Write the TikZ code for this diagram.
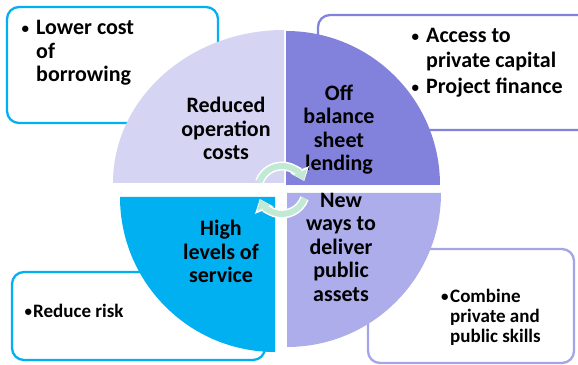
\documentclass[tikz,border=0pt]{standalone}
\usepackage{fontspec}
\setmainfont{Carlito}
\usetikzlibrary{arrows.meta, positioning}

\definecolor{lightlav}{HTML}{D5D5F3}
\definecolor{midpurple}{HTML}{8282DC}
\definecolor{softpurple}{HTML}{ADADEB}
\definecolor{skyblue}{HTML}{00B0F0}
\definecolor{mint}{HTML}{C2E9D4}

\newcommand{\dotmark}[1]{\llap{\raisebox{1pt}{\fontsize{15}{15}\selectfont\textbullet}\hspace{#1}}}

\begin{document}
\begin{tikzpicture}[x=1pt, y=1pt,
  infobox/.style={draw=#1, line width=2.3pt, fill=white, rounded corners=12pt},
  quadtext/.style={align=center, inner sep=0pt, font=\fontsize{22}{23.5}\selectfont\bfseries},
  boxtext/.style={align=left, inner sep=0pt, anchor=west, font=\fontsize{22}{23.5}\selectfont\bfseries},
  smalltext/.style={align=left, inner sep=0pt, anchor=west, font=\fontsize{19}{20}\selectfont\bfseries},
  cyclearrow/.style={line width=#1}]

\useasboundingbox (0,0) rectangle (578,364);

% text boxes behind the quadrants
\draw[infobox=skyblue] (7,241) rectangle (218,357);
\draw[infobox=midpurple] (318,234) rectangle (600,349);
\draw[infobox=skyblue] (12,4) rectangle (265,92);
\draw[infobox=softpurple!80!midpurple] (368,1) rectangle (574,115);

\node[boxtext] (borrow) at (36,311) {\dotmark{7pt}Lower cost\\of\\borrowing};
\node[boxtext, font=\fontsize{22}{24.5}\selectfont\bfseries] (capital) at (426,301) {\dotmark{7pt}Access to\\private capital\\[2pt]\dotmark{7pt}Project finance};
\node[smalltext] (risk) at (33,53) {\dotmark{1pt}Reduce risk};
\node[smalltext] (skills) at (450,47) {\dotmark{1.5pt}Combine\\private and\\public skills};

% quadrants
\fill[lightlav] (284,181) -- (113,181) arc[start angle=180, end angle=90, x radius=171, y radius=153] -- cycle;
\fill[midpurple] (286,179) -- (286,333) arc[start angle=90, end angle=0, radius=154] -- cycle;
\fill[skyblue] (275,167) -- (120,167) arc[start angle=180, end angle=270, radius=155] -- cycle;
\fill[softpurple] (287,171) -- (441,171) arc[start angle=0, end angle=-90, radius=154] -- cycle;

\node[quadtext] (costs) at (226,235.5) {Reduced\\operation\\costs};
\node[quadtext] (lending) at (339,234.5) {Off\\balance\\sheet\\lending};
\node[quadtext] (service) at (221,112.5) {High\\levels of\\service};
\node[quadtext] (assets) at (341,117) {New\\ways to\\deliver\\public\\assets};

% cycle arrows in the middle
\coordinate (hub) at (282,174);
\draw[white, cyclearrow=9pt, -{Triangle[length=12pt, width=19pt]}] ([shift={(160:24)}]hub) arc[start angle=160, end angle=22, radius=24];
\draw[mint, cyclearrow=6pt, -{Triangle[length=9pt, width=14pt]}] ([shift={(160:24)}]hub) arc[start angle=160, end angle=24, radius=24];
\draw[white, cyclearrow=9pt, -{Triangle[length=12pt, width=19pt]}] ([shift={(-20:24)}]hub) arc[start angle=-20, end angle=-158, radius=24];
\draw[mint, cyclearrow=6pt, -{Triangle[length=9pt, width=14pt]}] ([shift={(-20:24)}]hub) arc[start angle=-20, end angle=-156, radius=24];

\end{tikzpicture}
\end{document}
